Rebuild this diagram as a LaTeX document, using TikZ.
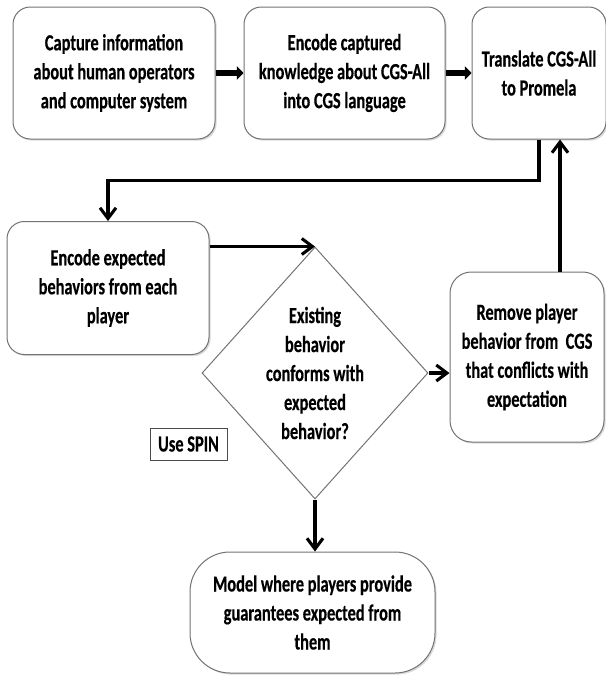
\documentclass[tikz,border=0pt]{standalone}
\usepackage{fontspec}
\setmainfont{Carlito}[FakeStretch=0.71, BoldFeatures={FakeBold=0.4}]
\usetikzlibrary{positioning, shapes.geometric, arrows.meta, shadows}

\begin{document}
\begin{tikzpicture}[x=0.75pt, y=-0.75pt,
    font=\fontsize{17.3}{21.75}\selectfont\bfseries,
    box/.style={draw=black!55, line width=0.75pt, rounded corners=13pt, fill=white, align=center,
      drop shadow={shadow xshift=1.2pt, shadow yshift=-1.2pt, opacity=0.3}},
    tag/.style={draw=black!70, line width=0.75pt, fill=white,
      drop shadow={shadow xshift=1pt, shadow yshift=-1pt, opacity=0.3}},
    dia/.style={diamond, draw=black!55, line width=0.75pt, inner sep=0pt},
    fat/.style={line width=4pt, -{Triangle[length=5pt, width=10pt]}},
    conn/.style={line width=2.3pt, -{Straight Barb[length=8pt, width=12pt]}}]
    \useasboundingbox (0,0) rectangle (606,675);

    \node[box, minimum width=151.5pt, minimum height=99pt] (B1) at (114,73) {Capture information\\about human operators\\and computer system};
    \node[box, minimum width=150.75pt, minimum height=99pt, right=21pt of B1] (B2) {Encode captured\\knowledge about CGS-All\\into CGS language};
    \node[box, minimum width=100.5pt, minimum height=99pt, right=19.5pt of B2] (B3) {Translate CGS-All\\to Promela};
    \node[box, minimum width=151.5pt, minimum height=99.75pt] (B4) at (108,288) {Encode expected\\behaviors from each\\player};
    \node[dia, minimum width=169.5pt, minimum height=189pt,
      label={[align=center]center:Existing\\behavior\\conforms with\\expected\\behavior?}] (D1) at (315,373) {};
    \node[box, rounded corners=16pt, minimum width=115.5pt, minimum height=127.5pt] (B5) at (527,357) {Remove player\\behavior from\ \ CGS\\that conflicts with\\expectation};
    \node[box, rounded corners=30pt, minimum width=183.75pt, minimum height=90.75pt] (B6) at (312.5,612.5) {Model where players provide\\guarantees expected from\\them};
    \node[tag, minimum width=57.75pt, minimum height=24pt] (S1) at (188.5,444) {Use SPIN};

    \draw[fat] (B1) -- (B2);
    \draw[fat] (B2) -- (B3);
    \draw[conn] (B3.south) -- ++(0,41) -| (B4.north);
    \draw[conn] (B4.east |- D1.north) -- (D1.north);
    \draw[conn] (D1.east) -- (D1.east -| B5.west);
    \draw[conn] (D1.south) -- (D1.south |- B6.north);
    \draw[conn] ([xshift=24.75pt]B5.north) -- ([xshift=24.75pt]B5.north |- B3.south);
\end{tikzpicture}
\end{document}
